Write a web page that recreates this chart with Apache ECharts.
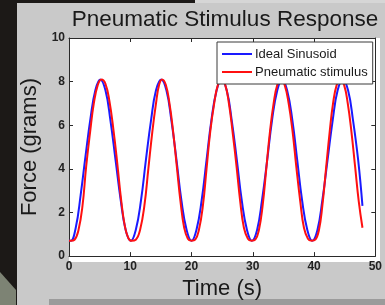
<!DOCTYPE html>
<html>
<head>
<meta charset="utf-8">
<script src="https://cdn.jsdelivr.net/npm/echarts@6/dist/echarts.min.js"></script>
<style>
  html, body { margin: 0; padding: 0; background: #1c1917; }
  #chart { width: 385px; height: 305px; }
</style>
</head>
<body>
<div id="chart"></div>
<script>
const xTicks = [0, 10, 20, 30, 40, 50]
const yTicks = [0, 2, 4, 6, 8, 10]

const idealTime = [0, 0.3, 1.1, 1.9, 2.7, 3.5, 4.3, 5.1, 5.95, 6.75, 7.6, 8.45, 9.25,
  10.1, 10.9, 11.75, 12.55, 13.4, 14.2, 15.05, 15.9, 16.7, 17.55, 18.35, 19.2,
  20.0, 20.8, 21.65, 22.45, 23.25, 24.1, 24.9, 25.75, 26.55, 27.4, 28.2, 29.05,
  29.85, 30.7, 31.5, 32.35, 33.15, 34.0, 34.8, 35.6, 36.45, 37.25, 38.05, 38.9,
  39.7, 40.55, 41.35, 42.2, 43.05, 43.85, 44.7, 45.55, 46.35, 47.2, 47.9]
const idealForce = [0.72, 0.7, 1.3, 2.8, 4.6, 6.3, 7.6, 8.1, 7.6, 6.25, 4.4, 2.55, 1.2,
  0.7, 1.2, 2.55, 4.4, 6.25, 7.6, 8.1, 7.6, 6.25, 4.4, 2.55, 1.2,
  0.7, 1.2, 2.55, 4.4, 6.25, 7.6, 8.1, 7.6, 6.25, 4.4, 2.55, 1.2,
  0.7, 1.2, 2.55, 4.4, 6.25, 7.6, 8.1, 7.6, 6.25, 4.4, 2.55, 1.2,
  0.7, 1.2, 2.55, 4.4, 6.25, 7.6, 8.1, 7.6, 6.25, 4.4, 2.3]

const pneuTime = [0, 0.3, 0.9, 1.55, 2.2, 2.8, 3.45, 4.05, 4.7, 5.3, 5.95, 6.6, 7.25, 7.9, 8.5, 9.1, 9.65,
  10.2, 10.9, 11.6, 12.3, 12.95, 13.6, 14.2, 14.7, 15.2, 15.8, 16.4, 17.0, 17.6, 18.2, 18.8, 19.4,
  20.0, 20.6, 21.2, 21.85, 22.45, 23.05, 23.7, 24.3, 24.9, 25.5, 26.1, 26.7, 27.35, 27.95, 28.55, 29.2,
  29.8, 30.4, 31.0, 31.6, 32.2, 32.8, 33.4, 34.0, 34.6, 35.2, 35.85, 36.5, 37.1, 37.75, 38.35, 39.0,
  39.6, 40.2, 40.8, 41.35, 41.95, 42.55, 43.1, 43.7, 44.3, 44.9, 45.5, 46.1, 46.7, 47.3, 47.9]
const pneuForce = [0.7, 0.7, 0.75, 1.2, 2.3, 4.1, 5.7, 7.0, 7.85, 8.1, 7.9, 7.1, 5.8, 4.2, 2.6, 1.4, 0.85,
  0.7, 0.75, 1.2, 2.3, 4.0, 5.7, 7.0, 7.85, 8.1, 7.85, 7.0, 5.7, 4.1, 2.5, 1.3, 0.8,
  0.7, 0.75, 1.2, 2.3, 4.0, 5.7, 7.0, 7.85, 8.1, 7.85, 7.0, 5.7, 4.1, 2.5, 1.3, 0.8,
  0.7, 0.75, 1.2, 2.3, 4.0, 5.7, 7.0, 7.85, 8.1, 7.85, 7.0, 5.7, 4.1, 2.5, 1.3, 0.8,
  0.7, 0.75, 1.2, 2.3, 4.0, 5.7, 7.0, 7.85, 8.1, 7.85, 7.0, 5.7, 4.1, 2.5, 1.3]

const FONT = "'Liberation Sans', Arial, sans-serif"

const idealData = idealTime.map((t, i) => [t, idealForce[i]])
const pneuData = pneuTime.map((t, i) => [t, pneuForce[i]])

const axisLine = { show: true, onZero: false, lineStyle: { color: '#2a2a2a', width: 1 } }
const tick = { show: true, inside: true, length: 4, lineStyle: { color: '#2a2a2a' } }
const tickLabel = { color: '#222', fontFamily: FONT, fontSize: 12, fontWeight: 'bold' }

const option = {
  animation: false,
  backgroundColor: 'transparent',
  graphic: [
    { type: 'rect', z: -10, silent: true, shape: { x: 17, y: 3, width: 368, height: 302 }, style: { fill: '#c9c9c9' } },
    { type: 'rect', z: -9, silent: true, shape: { x: 195, y: 0, width: 190, height: 3 }, style: { fill: '#d6d6d6' } },
    { type: 'rect', z: -9, silent: true, shape: { x: 49, y: 299, width: 336, height: 6 }, style: { fill: '#9b9b9b' } },
    { type: 'polygon', z: -9, silent: true, shape: { points: [[0, 272], [16, 290], [16, 305], [0, 305]] }, style: { fill: '#7d8374' } },
    // white plot face behind the axes
    { type: 'rect', z: -8, silent: true, shape: { x: 69, y: 38, width: 311, height: 224 }, style: { fill: '#ffffff' } }
  ],
  title: {
    text: 'Pneumatic Stimulus Response',
    left: 220,
    textAlign: 'center',
    top: 3,
    textStyle: { fontFamily: FONT, fontSize: 22.5, fontWeight: 'normal', color: '#1a1a1a' }
  },
  legend: {
    orient: 'vertical',
    left: 217,
    top: 42,
    padding: [5, 5, 5, 5],
    itemGap: 4,
    itemWidth: 30,
    itemHeight: 2,
    icon: 'rect',
    backgroundColor: '#ffffff',
    borderColor: '#3a3a3a',
    borderWidth: 1,
    textStyle: { fontFamily: FONT, fontSize: 13, color: '#1a1a1a', lineHeight: 14, padding: [0, 0, 0, -2] },
    data: ['Ideal Sinusoid', 'Pneumatic stimulus']
  },
  grid: { left: 69, right: 5, top: 38, bottom: 43 },
  xAxis: [
    {
      type: 'value', min: 0, max: 50, interval: 10,
      name: 'Time (s)', nameLocation: 'middle', nameGap: 20,
      nameTextStyle: { fontFamily: FONT, fontSize: 22, color: '#1a1a1a' },
      axisLine: axisLine, axisTick: tick,
      axisLabel: Object.assign({ margin: 5, formatter: v => xTicks.includes(v) ? String(v) : '' }, tickLabel),
      splitLine: { show: false }
    },
    {
      type: 'value', min: 0, max: 50, interval: 10, position: 'top',
      axisLine: axisLine, axisTick: tick, axisLabel: { show: false }, splitLine: { show: false }
    }
  ],
  yAxis: [
    {
      type: 'value', min: 0, max: 10, interval: 2,
      name: 'Force (grams)', nameLocation: 'middle', nameGap: 21,
      nameTextStyle: { fontFamily: FONT, fontSize: 22, color: '#1a1a1a' },
      axisLine: axisLine, axisTick: tick,
      axisLabel: Object.assign({ margin: 4, formatter: v => yTicks.includes(v) ? String(v) : '' }, tickLabel),
      splitLine: { show: false }
    },
    {
      type: 'value', min: 0, max: 10, interval: 2, position: 'right',
      axisLine: axisLine, axisTick: tick, axisLabel: { show: false }, splitLine: { show: false }
    }
  ],
  series: [
    {
      name: 'Ideal Sinusoid',
      type: 'line',
      symbol: 'none',
      smooth: 0.45,
      color: '#1a1aff',
      lineStyle: { width: 2, color: '#1a1aff' },
      data: idealData
    },
    {
      name: 'Pneumatic stimulus',
      type: 'line',
      symbol: 'none',
      smooth: 0.45,
      color: '#ff1010',
      lineStyle: { width: 2, color: '#ff1010' },
      data: pneuData
    }
  ]
}

const myChart = echarts.init(document.getElementById('chart'))
myChart.setOption(option)
</script>
</body>
</html>
